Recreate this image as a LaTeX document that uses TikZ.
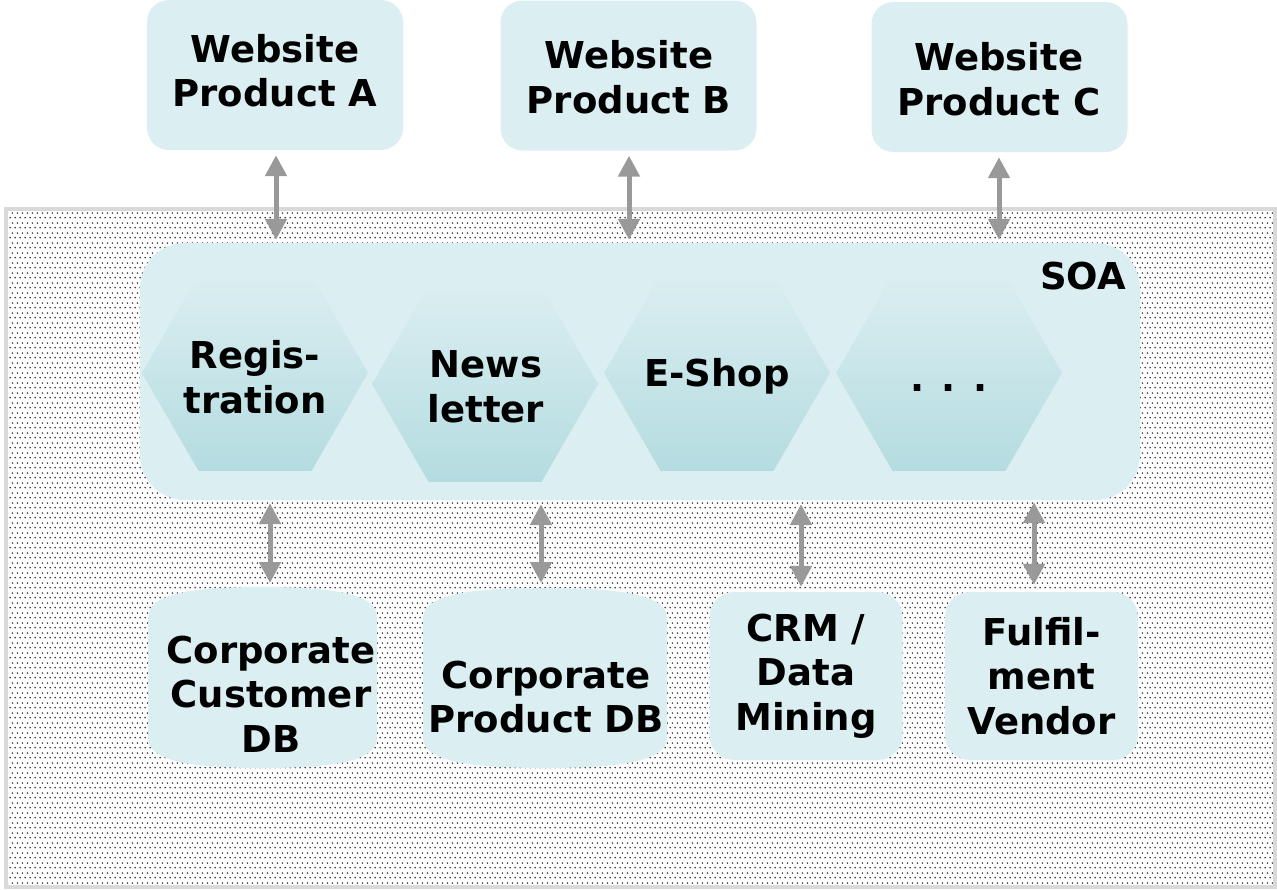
\documentclass[tikz,border=0pt]{standalone}
\usepackage{fontspec}
\setmainfont{DejaVu Sans}
\usetikzlibrary{arrows.meta,shapes.geometric,patterns.meta}
\definecolor{boxfill}{HTML}{DBEEF1}
\definecolor{hexbot}{HTML}{B4DCE0}
\definecolor{arrgray}{HTML}{999999}
\definecolor{framegray}{HTML}{D9D9D9}
\definecolor{dotgray}{HTML}{2A2A2A}
\tikzdeclarepattern{
  name=bgdots,
  type=uncolored,
  bounding box={(0pt,0pt) and (4.8pt,9.6pt)},
  tile size={(4.8pt,9.6pt)},
  code={\fill (1.2pt,2.4pt) circle (0.9pt); \fill (3.6pt,7.2pt) circle (0.9pt);}
}
\tikzset{
  lbl/.style={font=\fontsize{37}{44.5}\selectfont\bfseries, align=center, text=black},
  webbox/.style={fill=boxfill, rounded corners=22pt, minimum width=256pt, minimum height=150pt, inner sep=0pt},
  hexnode/.style={regular polygon, regular polygon sides=6, minimum size=226pt, inner sep=0pt, top color=boxfill, bottom color=hexbot},
  sysbox/.style={fill=boxfill, rounded corners=25pt, minimum width=193pt, minimum height=168pt, inner sep=0pt, lbl},
  dbframe/.style={inner sep=0pt, outer sep=0pt},
  link/.style={draw=arrgray, line width=5pt, {Triangle[width=21pt,length=21pt]}-{Triangle[width=21pt,length=21pt]}},
  bgbox/.style={draw=framegray, line width=4pt, pattern=bgdots, pattern color=dotgray, inner sep=0pt, outer sep=0pt}
}
\begin{document}
\begin{tikzpicture}[x=1pt, y=-1pt]
\useasboundingbox (0,0) rectangle (1277,889);
% background frame
\node[bgbox, minimum width=1269pt, minimum height=678pt] (bg) at (640.5,548) {};
% websites
\node[webbox] (wa) at (275,75) {};
\node[webbox] (wb) at (628.5,75.5) {};
\node[webbox] (wc) at (999.5,77) {};
\node[lbl] (watxt) at (275,70.5) {Website\\Product A};
\node[lbl] (wbtxt) at (629,77) {Website\\Product B};
\node[lbl] (wctxt) at (999,79) {Website\\Product C};
% SOA
\node[fill=boxfill, rounded corners=45pt, minimum width=1000pt, minimum height=257pt, inner sep=0pt] (soa) at (640,371.5) {};
\node[lbl, anchor=east, inner sep=0pt] (soalbl) at (1126,276) {SOA};
% services
\node[hexnode] (reg) at (255,373) {};
\node[hexnode] (news) at (485,384) {};
\node[hexnode] (shop) at (717,373) {};
\node[hexnode] (more) at (949,373) {};
\node[lbl] (regtxt) at (255,377) {Regis-\\tration};
\node[lbl] (newstxt) at (486,387) {News\\letter};
\node[lbl] (shoptxt) at (717,376) {E-Shop};
\node[lbl, anchor=base] (moretxt) at (949,391) {. . .};
% backends
\node[dbframe, minimum width=229pt, minimum height=181pt] (cdb) at (262.5,677.5) {};
\fill[boxfill] (148,617) .. controls (148,592) and (200,587) .. (262.5,587)
   .. controls (325,587) and (377,592) .. (377,617) -- (377,738)
   .. controls (377,763) and (325,768) .. (262.5,768)
   .. controls (200,768) and (148,763) .. (148,738) -- cycle;
\node[lbl] (cdbtxt) at (271,694) {Corporate\\Customer\\DB};
\node[dbframe, minimum width=244pt, minimum height=180pt] (pdb) at (545,678) {};
\fill[boxfill] (423,618) .. controls (423,593) and (478,588) .. (545,588)
   .. controls (612,588) and (667,593) .. (667,618) -- (667,738)
   .. controls (667,763) and (612,768) .. (545,768)
   .. controls (478,768) and (423,763) .. (423,738) -- cycle;
\node[lbl] (pdbtxt) at (546,697) {Corporate\\Product DB};
\node[sysbox] (crm) at (806,676) {CRM /\\Data\\Mining};
\node[sysbox] (ful) at (1041.5,676) {Fulfil-\\ment\\Vendor};
% connector columns
\coordinate (xa) at (276,0);
\coordinate (xb) at (629,0);
\coordinate (xc) at (999,0);
\coordinate (xcdb) at (270,0);
\coordinate (xpdb) at (541,0);
\coordinate (xcrm) at (801,0);
\coordinate (xful) at (1034,0);
% connectors
\draw[link, shorten <=5pt, shorten >=3pt] (wa.south -| xa) -- (soa.north -| xa);
\draw[link, shorten <=5pt, shorten >=3pt] (wb.south -| xb) -- (soa.north -| xb);
\draw[link, shorten <=5pt, shorten >=3pt] (wc.south -| xc) -- (soa.north -| xc);
\draw[link, shorten <=3pt, shorten >=4pt] (soa.south -| xcdb) -- (cdb.north -| xcdb);
\draw[link, shorten <=4pt, shorten >=5pt] (soa.south -| xpdb) -- (pdb.north -| xpdb);
\draw[link, shorten <=4pt, shorten >=5pt] (soa.south -| xcrm) -- (crm.north -| xcrm);
\draw[link, shorten <=2pt, shorten >=7pt] (soa.south -| xful) -- (ful.north -| xful);
\end{tikzpicture}
\end{document}
